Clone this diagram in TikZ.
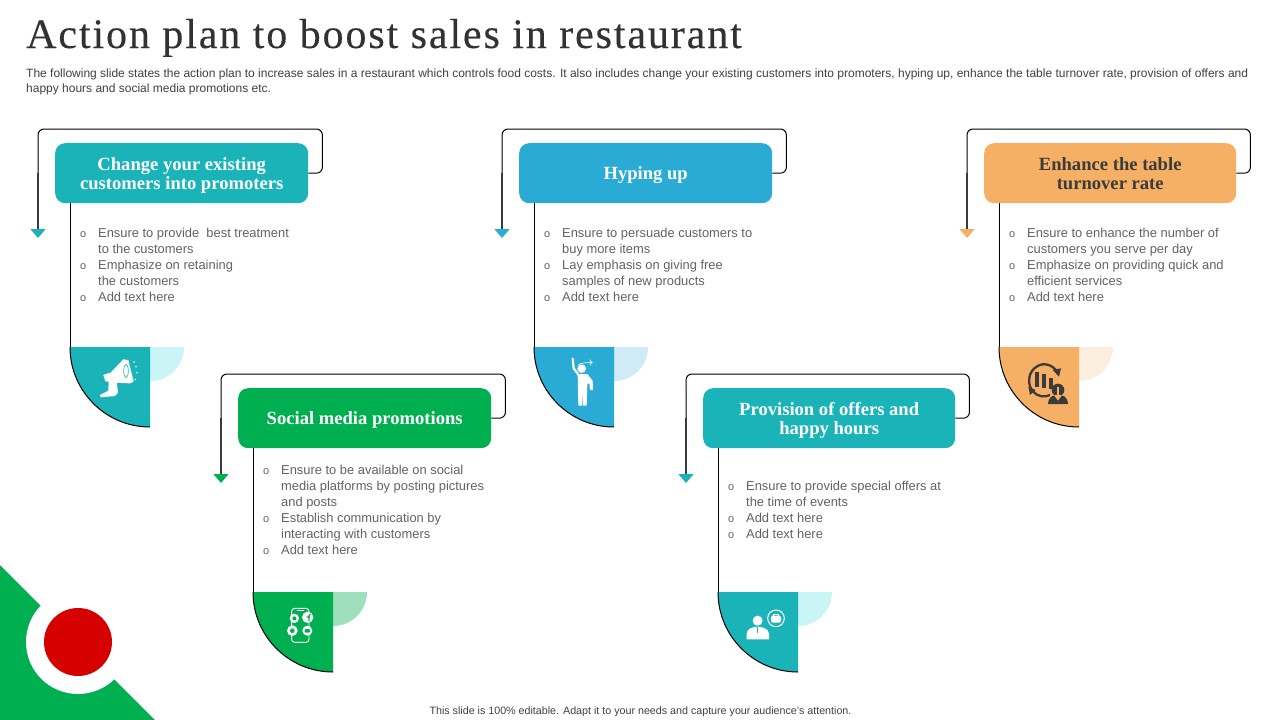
\documentclass[tikz,border=0pt]{standalone}
\usepackage{fontspec}
\setmainfont{Liberation Sans}
\newfontfamily\titlefont[LetterSpace=4.5,FakeBold=0.25]{Liberation Serif}
\newfontfamily\headfont{Liberation Serif}
\usetikzlibrary{arrows.meta,calc}
\definecolor{teal1}{HTML}{1AB3B8}
\definecolor{blue1}{HTML}{29ABD6}
\definecolor{orange1}{HTML}{F5B066}
\definecolor{green1}{HTML}{00AF50}
\definecolor{lteal}{HTML}{C9F5F7}
\definecolor{lblue}{HTML}{D0EBF6}
\definecolor{lorange}{HTML}{FCEEDF}
\definecolor{lgreen}{HTML}{9FE0BC}
\definecolor{red1}{HTML}{D60000}
\definecolor{ink}{HTML}{3B3B3B}
\definecolor{bodytxt}{HTML}{636363}
\definecolor{subtxt}{HTML}{404040}
\tikzset{
  headbox/.style={rounded corners=10pt,minimum height=60pt,inner sep=0pt,align=center,
    font=\headfont\bfseries\fontsize{18.6}{19}\selectfont},
  bodytext/.style={anchor=north west,inner sep=0pt,align=left,text=bodytxt,
    font=\fontsize{12.9}{16}\selectfont},
  conn/.style={line width=1pt,black},
  stem/.style={line width=1pt,black},
  fan/.style={line width=1pt,black},
}
\newcommand{\bul}{\llap{\fontsize{11}{16}\selectfont o\hspace{12pt}}}
\newcommand{\fr}{\rule{0pt}{12pt}}
\newcommand{\hr}{\rule{0pt}{18pt}}
\newcommand{\dr}{\rule[-5pt]{0pt}{5pt}}
% id, x, y, width, colour, light, text colour, title, body top offset, body
\newcommand{\panel}[9]{%
  \node[headbox,anchor=north west,minimum width=#4pt,fill=#5,text=#7] (h#1) at (#2,#3) {\hr #8\dr};
  \coordinate (tl#1) at ($(#2,#3)+(-17,-14)$);
  \coordinate (bl#1) at ($(#2,#3)+(-17,30)$);
  \coordinate (ar#1) at ($(#2,#3)+(-17,95)$);
  \coordinate (st#1) at ($(#2,#3)+(15,60)$);
  \coordinate (qa#1) at ($(#2,#3)+(15,204)$);
  \coordinate (qc#1) at ($(#2,#3)+(95,204)$);
  \fill[#6] (qc#1) -- ++(34,0) arc[start angle=0,end angle=-90,radius=34pt] -- cycle;
  \fill[#5] (qa#1) -- (qc#1) -- ++(0,80) arc[start angle=270,end angle=180,radius=80pt] -- cycle;
  \draw[fan] (qa#1) arc[start angle=180,end angle=270,radius=80pt];
  \draw[stem] (st#1) -- (qa#1);
  \draw[line width=1.1pt,color=ink,-{Triangle[length=9pt,width=15pt,color=#5]}] (bl#1) -- (ar#1);
  \draw[conn,rounded corners=6pt] (h#1.east) -- ++(14,0) |- (tl#1) -- (bl#1);
  \node[bodytext] (b#1) at ($(#2,#3)+(43,#9)$)
}
\begin{document}
\begin{tikzpicture}[x=1pt,y=-1pt]
\useasboundingbox (0,0) rectangle (1280,720);
\fill[white] (0,0) rectangle (1280,720);
% corner
\fill[green1] (0,565) -- (155,720) -- (0,720) -- cycle;
\node[circle,fill=white,minimum size=104pt,inner sep=0pt] (cw) at (78,642) {};
\node[circle,fill=red1,minimum size=68pt,inner sep=0pt] (cr) at (78,642) {};
% title
\node[anchor=base west,inner sep=0pt,text=ink!85!black,font=\titlefont\fontsize{42}{46}\selectfont] (title) at (26,48) {Action plan to boost sales in restaurant};
\node[anchor=base west,inner sep=0pt,text=subtxt,font=\fontsize{12}{15}\selectfont] (sub1) at (26,77) {\hbox to 1222pt{The following slide states the action plan to increase sales in a restaurant which controls food costs. It also includes change your existing customers into promoters, hyping up, enhance the table turnover rate, provision of offers and}};
\node[anchor=base west,inner sep=0pt,text=subtxt,font=\fontsize{12}{15}\selectfont] (sub2) at (26,92) {happy hours and social media promotions etc.};
\node[anchor=base,inner sep=0pt,text=subtxt,font=\fontsize{10.7}{13}\selectfont] (foot) at (640.5,714.5) {This slide is 100\% editable.  Adapt it to your needs and capture your audience's attention.};

\panel{a}{55}{143}{253}{teal1}{lteal}{white}{Change your existing\\customers into promoters}{82}
{\fr\bul Ensure to provide\ \ best treatment\\to the customers\\\bul Emphasize on retaining\\the customers\\\bul Add text here};
\panel{b}{519}{143}{253}{blue1}{lblue}{white}{Hyping up}{82}
{\fr\bul Ensure to persuade customers to\\buy more items\\\bul Lay emphasis on giving free\\samples of new products\\\bul Add text here};
\panel{c}{984}{143}{252}{orange1}{lorange}{ink}{Enhance the table\\turnover rate}{82}
{\fr\bul Ensure to enhance the number of\\customers you serve per day\\\bul Emphasize on providing quick and\\efficient services\\\bul Add text here};
\panel{d}{238}{388}{253}{green1}{lgreen}{white}{Social media promotions}{74}
{\fr\bul Ensure to be available on social\\media platforms by posting pictures\\and posts\\\bul Establish communication by\\interacting with customers\\\bul Add text here};
\panel{e}{703}{388}{252}{teal1}{lteal}{white}{Provision of offers and\\happy hours}{90}
{\fr\bul Ensure to provide special offers at\\the time of events\\\bul Add text here\\\bul Add text here};

% megaphone
\begin{scope}[shift={(60,340)},scale=1/3]
\fill[white] (148,102) -- (190,58) -- (205,60) -- (221,125) -- (210,130) -- (156,128) -- cycle;
\draw[teal1,line width=.6pt] (198,93) ellipse[x radius=7,y radius=20];
\fill[white] (130,105) -- (150,98) -- (156,126) -- (136,124) -- cycle;
\fill[white] (146,122) -- (170,124) -- (174,158) -- (165,168) -- (122,172) -- (120,165) -- (145,152) -- cycle;
\foreach \p in {(222,66),(228,80),(231,98),(226,118)} \fill[white] \p circle[radius=2.5];
\end{scope}
% person raising arm
\begin{scope}[shift={(530,340)},scale=1/3]
\fill[white] (155,86) circle[radius=13];
\draw[white,line width=2.2pt,line cap=round,line join=round] (128,56) -- (131,85) -- (148,108);
\fill[white] (143,102) -- (172,102) -- (188,122) -- (189,150) -- (180,150) -- (178,130) -- (172,132) -- (170,197) -- (159,197) -- (158,155) -- (156,197) -- (145,197) -- cycle;
\draw[white,line width=.6pt,->] (145,74) .. controls (155,68) and (170,68) .. (188,67);
\end{scope}
% chart and person
\begin{scope}[shift={(990,340)},scale=1/3]
\draw[ink,line width=2.3pt] (200,95) .. controls (190,75) and (160,65) .. (140,80) .. controls (118,92) and (110,125) .. (125,150);
\draw[ink,line width=2.3pt] (130,155) .. controls (145,172) and (165,172) .. (180,165);
\fill[ink] (188,90) -- (213,85) -- (207,110) -- cycle;
\fill[ink] (115,140) -- (137,150) -- (120,165) -- cycle;
\fill[ink] (136,97) rectangle (148,142);
\fill[ink] (156,103) rectangle (168,144);
\fill[ink] (178,115) rectangle (190,147);
\fill[ink] (204,150) circle[radius=19];
\fill[ink] (174,192) .. controls (176,168) and (190,165) .. (204,165) .. controls (218,165) and (232,168) .. (234,192) -- cycle;
\fill[orange1] (200,142) rectangle (208,165);
\fill[orange1] (192,165) -- (216,165) -- (204,182) -- cycle;
\end{scope}
% phone with social icons
\begin{scope}[shift={(245,585)},scale=1/3]
\draw[white,line width=.9pt,rounded corners=3pt] (140,70) rectangle (192,172);
\draw[white,line width=.8pt] (155,75) -- (177,75);
\fill[white] (148,100) circle[radius=14];
\fill[white] (188,97) circle[radius=17];
\fill[white] (142,137) circle[radius=16];
\fill[white] (187,137) circle[radius=15];
\fill[green1] (148,100) circle[radius=6];
\draw[green1,line width=1.1pt] (192,108) -- (192,92) .. controls (192,88) and (194,87) .. (197,87) (185,96) -- (196,96);
\fill[green1] (142,137) circle[radius=7];
\fill[green1,rounded corners=1pt] (179,132) rectangle (195,143);
\end{scope}
% person and briefcase
\begin{scope}[shift={(710,585)},scale=1/3]
\fill[white] (143,107) circle[radius=15];
\fill[white] (110,163) -- (110,145) .. controls (112,130) and (128,126) .. (143,125) .. controls (158,126) and (174,130) .. (177,145) -- (177,163) -- cycle;
\draw[teal1,line width=.6pt] (143,126) -- (143,145);
\draw[white,line width=1pt] (198,100) circle[radius=25];
\fill[white,rounded corners=1.5pt] (183,92) rectangle (213,113);
\draw[white,line width=.7pt] (191,92) -- (191,87) -- (205,87) -- (205,92);
\end{scope}
\end{tikzpicture}
\end{document}
